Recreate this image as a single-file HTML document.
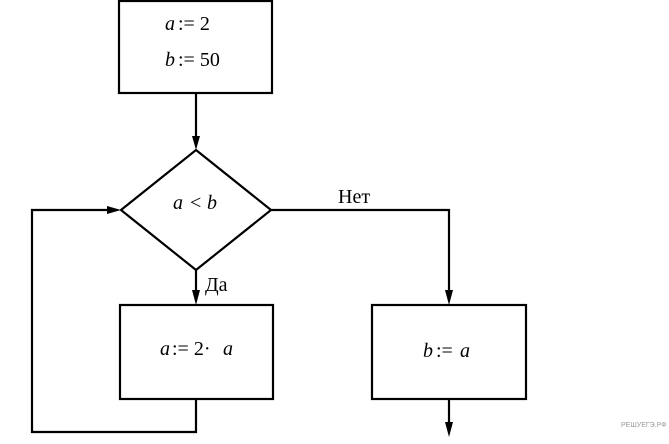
<!DOCTYPE html>
<html><head><meta charset="utf-8"><style>
html,body{margin:0;padding:0;background:#fff;}
svg{display:block}
text{font-family:"Liberation Serif",serif;font-size:20px;fill:#000}
.i{font-style:italic}
</style></head><body>
<svg width="669" height="444" viewBox="0 0 669 444" xmlns="http://www.w3.org/2000/svg">
<g stroke="#000" stroke-width="2.2" fill="none">
<rect x="119" y="1" width="153" height="92"/>
<line x1="196" y1="93" x2="196" y2="140"/>
<polygon points="196,150 271,210 196,270 121,210"/>
<line x1="196" y1="270" x2="196" y2="294"/>
<rect x="120" y="305" width="153" height="94"/>
<polyline points="196,399 196,432 32,432 32,210 111,210"/>
<polyline points="271,210 449,210 449,294"/>
<rect x="372" y="305" width="154" height="94"/>
<line x1="449" y1="399" x2="449" y2="426"/>
</g>
<g fill="#000">
<polygon points="192,136 200,136 196,150"/>
<polygon points="192,290 200,290 196,305"/>
<polygon points="107,206 107,214 121,210"/>
<polygon points="445,290 453,290 449,305"/>
<polygon points="445,422 453,422 449,437"/>
</g>
<text x="165" y="30" class="i">a</text><text x="178" y="30">:= 2</text>
<text x="165" y="66" class="i">b</text><text x="178" y="66">:= 50</text>
<text x="173" y="209" class="i">a</text><text x="190" y="209">&lt;</text><text x="207" y="209" class="i">b</text>
<text x="338" y="203">Нет</text>
<text x="205" y="291">Да</text>
<text x="160" y="355" class="i">a</text><text x="172" y="355">:= 2·</text><text x="223" y="355" class="i">a</text>
<text x="423" y="357" class="i">b</text><text x="436" y="357">:=</text><text x="460" y="357" class="i">a</text>
<text x="621" y="427" style="font-family:'Liberation Sans',sans-serif;font-size:7px;fill:#999">РЕШУЕГЭ.РФ</text>
</svg>
</body></html>
